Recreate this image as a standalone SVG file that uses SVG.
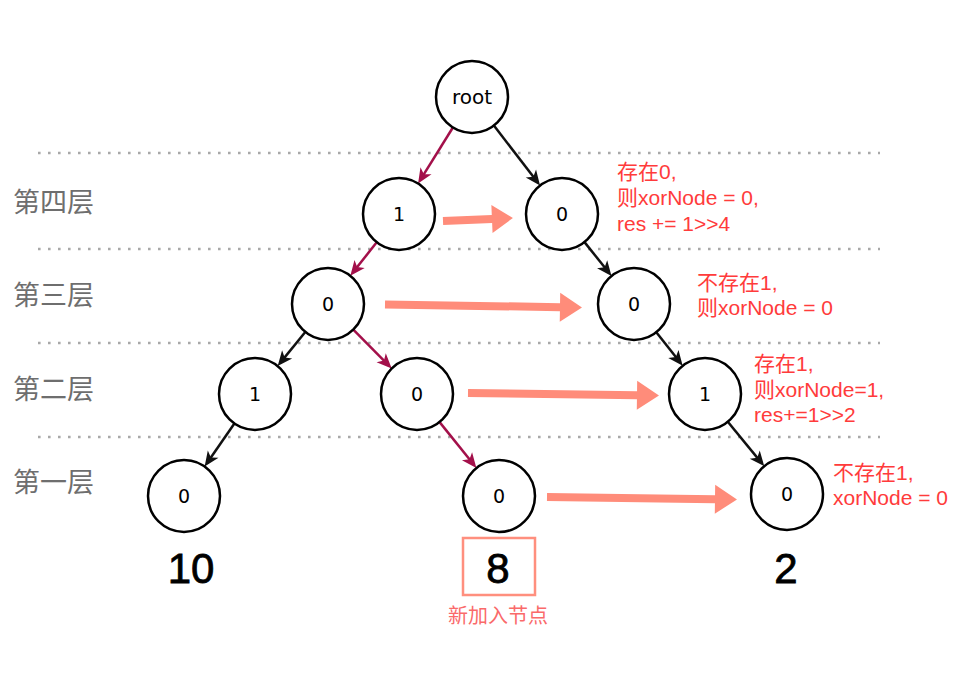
<svg xmlns="http://www.w3.org/2000/svg" width="967" height="675" viewBox="0 0 967 675">
  <style>
    .node circle { fill: #fff; stroke: #000; stroke-width: 2.5; }
    .node text { font-family: "DejaVu Sans", sans-serif; font-size: 19px; text-anchor: middle; fill: #000; }
    .node text.root { font-size: 20px; }
    .level { stroke: #a8a8a8; stroke-width: 2.6; stroke-dasharray: 2.6 7.4; fill: none; }
    .layer { font-family: "Noto Sans CJK SC", sans-serif; font-size: 27px; fill: #6e6e6e; }
    .note { font-family: "Liberation Sans", "Noto Sans CJK SC", sans-serif; font-size: 21px; fill: #ff3b3b; }
    .edge { fill: none; stroke-width: 2.5; }
    .edge.k { stroke: #111; }
    .edge.c { stroke: #a3104a; }
    .flow { fill: #ff8c7a; }
    .num { font-family: "Liberation Sans", sans-serif; font-size: 42px; fill: #000; stroke: #000; stroke-width: 0.8; text-anchor: middle; }
  </style>
  <defs>
    <marker id="ahK" markerUnits="userSpaceOnUse" markerWidth="16" markerHeight="14" viewBox="-16 -7 16 14" refX="-4" refY="0" orient="auto" overflow="visible">
      <path d="M0,0 L-15,-6.5 L-11,0 L-15,6.5 Z" fill="#111"/>
    </marker>
    <marker id="ahC" markerUnits="userSpaceOnUse" markerWidth="16" markerHeight="14" viewBox="-16 -7 16 14" refX="-4" refY="0" orient="auto" overflow="visible">
      <path d="M0,0 L-15,-6.5 L-11,0 L-15,6.5 Z" fill="#a3104a"/>
    </marker>
  </defs>

  <rect width="967" height="675" fill="#fff"/>

  <!-- level separators -->
  <g id="levels">
    <line class="level" x1="38" y1="153" x2="880" y2="153"/>
    <line class="level" x1="38" y1="249" x2="880" y2="249"/>
    <line class="level" x1="38" y1="343" x2="880" y2="343"/>
    <line class="level" x1="38" y1="437" x2="880" y2="437"/>
  </g>

  <!-- layer names -->
  <g id="layer-labels">
    <text class="layer" x="13" y="212">第四层</text>
    <text class="layer" x="13" y="305">第三层</text>
    <text class="layer" x="13" y="399">第二层</text>
    <text class="layer" x="13" y="492">第一层</text>
  </g>

  <!-- tree edges -->
  <g id="connectors">
    <line class="edge c" x1="452.9" y1="127.5" x2="420.2" y2="180.1" marker-end="url(#ahC)"/>
    <line class="edge k" x1="493.9" y1="125.5" x2="537.6" y2="182.3" marker-end="url(#ahK)"/>
    <line class="edge c" x1="376.7" y1="242.3" x2="352.8" y2="272.6" marker-end="url(#ahC)"/>
    <line class="edge k" x1="584.5" y1="242.1" x2="609.0" y2="272.8" marker-end="url(#ahK)"/>
    <line class="edge k" x1="305.3" y1="332.0" x2="280.2" y2="362.9" marker-end="url(#ahK)"/>
    <line class="edge c" x1="353.3" y1="329.6" x2="388.9" y2="365.6" marker-end="url(#ahC)"/>
    <line class="edge k" x1="656.3" y1="332.3" x2="680.2" y2="362.6" marker-end="url(#ahK)"/>
    <line class="edge k" x1="234.4" y1="423.5" x2="206.9" y2="463.2" marker-end="url(#ahK)"/>
    <line class="edge c" x1="439.6" y1="422.1" x2="473.9" y2="464.8" marker-end="url(#ahC)"/>
    <line class="edge k" x1="727.8" y1="421.8" x2="761.7" y2="463.1" marker-end="url(#ahK)"/>
  </g>

  <!-- comparison arrows between the two paths -->
  <g id="flow-arrows">
    <path class="flow" transform="translate(443,221) rotate(-2.45)" d="M0,-4 L49,-4 L49,-14 L70,0 L49,14 L49,4 L0,4 Z"/>
    <path class="flow" transform="translate(385,304.5) rotate(0.87)" d="M0,-4 L175,-4 L175,-14.5 L197,0 L175,14.5 L175,4 L0,4 Z"/>
    <path class="flow" transform="translate(468,393) rotate(0.75)" d="M0,-4 L169,-4 L169,-14.5 L191,0 L169,14.5 L169,4 L0,4 Z"/>
    <path class="flow" transform="translate(547,497) rotate(0.75)" d="M0,-4 L168,-4 L168,-14.5 L190,0 L168,14.5 L168,4 L0,4 Z"/>
  </g>

  <!-- nodes -->
  <g id="n-root" class="node"><circle cx="472" cy="97" r="36"/><text class="root" x="472" y="104">root</text></g>
  <g id="n-4a" class="node"><circle cx="399" cy="214" r="36"/><text x="399" y="221">1</text></g>
  <g id="n-4b" class="node"><circle cx="562" cy="214" r="36"/><text x="562" y="221">0</text></g>
  <g id="n-3a" class="node"><circle cx="328" cy="304" r="36"/><text x="328" y="311">0</text></g>
  <g id="n-3b" class="node"><circle cx="634" cy="304" r="36"/><text x="634" y="311">0</text></g>
  <g id="n-2a" class="node"><circle cx="255" cy="394" r="36"/><text x="255" y="401">1</text></g>
  <g id="n-2b" class="node"><circle cx="417" cy="394" r="36"/><text x="417" y="401">0</text></g>
  <g id="n-2c" class="node"><circle cx="705" cy="394" r="36"/><text x="705" y="401">1</text></g>
  <g id="n-1a" class="node"><circle cx="184" cy="496" r="36"/><text x="184" y="503">0</text></g>
  <g id="n-1b" class="node"><circle cx="499" cy="496" r="36"/><text x="499" y="503">0</text></g>
  <g id="n-1c" class="node"><circle cx="787" cy="494" r="36"/><text x="787" y="501">0</text></g>

  <!-- annotations -->
  <g id="notes">
    <text class="note" x="617" y="179">存在0,</text>
    <text class="note" x="617" y="205">则xorNode = 0,</text>
    <text class="note" x="617" y="231">res += 1&gt;&gt;4</text>

    <text class="note" x="697" y="290">不存在1,</text>
    <text class="note" x="697" y="315">则xorNode = 0</text>

    <text class="note" x="754" y="371">存在1,</text>
    <text class="note" x="754" y="397">则xorNode=1,</text>
    <text class="note" x="754" y="422">res+=1&gt;&gt;2</text>

    <text class="note" x="833" y="480">不存在1,</text>
    <text class="note" x="833" y="505">xorNode = 0</text>
  </g>

  <!-- values stored along each path -->
  <g id="values">
    <text class="num" x="191" y="583">10</text>
    <rect x="463" y="538" width="72" height="57" fill="none" stroke="#ff8f7e" stroke-width="2.5"/>
    <text class="num" x="498" y="583">8</text>
    <text class="num" x="786" y="583">2</text>
    <text x="498" y="623" text-anchor="middle" font-family="Noto Sans CJK SC, sans-serif" font-size="20" fill="#fa6a6a">新加入节点</text>
  </g>
</svg>
